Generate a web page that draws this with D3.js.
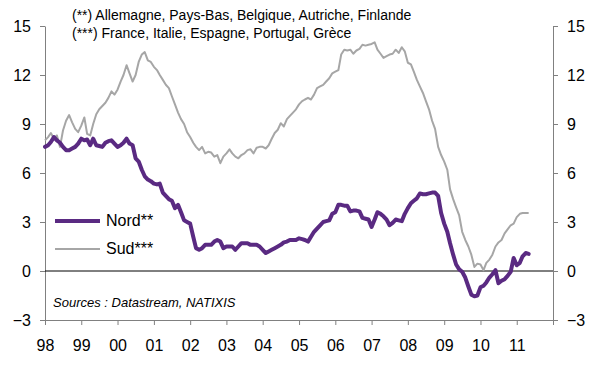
<!DOCTYPE html>
<html>
<head>
<meta charset="utf-8">
<script src="https://cdn.jsdelivr.net/npm/d3@7"></script>
<style>
  body { margin: 0; background: #fff; }
  text { font-family: Arial, "Liberation Sans", sans-serif; fill: #000; }
</style>
</head>
<body>
<div id="chart"></div>
<script>

// monthly values, jan 1998 -> may 2011
var nord = [7.6,7.7,7.9,8.2,8.0,7.85,7.6,7.4,7.4,7.5,7.6,7.8,
            8.1,8.0,8.05,7.7,8.1,7.7,7.65,7.6,7.85,7.95,8.0,7.8,
            7.6,7.7,7.85,8.1,7.8,7.7,6.9,6.7,6.2,5.8,5.6,5.5,
            5.35,5.3,5.35,4.8,4.6,4.4,4.3,3.85,4.05,3.6,3.1,3.0,
            2.9,2.1,1.4,1.3,1.4,1.6,1.6,1.6,1.8,1.9,1.8,1.4,
            1.5,1.5,1.5,1.3,1.5,1.7,1.7,1.7,1.6,1.6,1.6,1.5,
            1.3,1.1,1.2,1.3,1.4,1.5,1.6,1.75,1.8,1.9,1.9,1.9,
            2.0,1.95,1.9,1.8,2.1,2.4,2.6,2.8,3.0,3.05,3.1,3.5,
            3.6,4.05,4.05,4.0,4.0,3.65,3.7,3.7,3.65,3.25,3.2,3.15,
            2.7,3.15,3.6,3.5,3.35,3.15,2.8,2.95,3.15,3.1,3.05,3.5,
            3.85,4.15,4.3,4.45,4.75,4.7,4.7,4.75,4.8,4.8,4.6,3.55,
            2.9,2.4,1.7,1.0,0.4,0.1,-0.05,-0.4,-0.95,-1.45,-1.55,-1.5,
            -1.0,-0.9,-0.7,-0.4,-0.2,0.05,-0.75,-0.6,-0.5,-0.3,-0.05,0.8,
            0.35,0.5,0.9,1.1,1.05];

var sud = [8.0,8.2,8.45,8.1,8.3,7.6,8.6,9.2,9.55,9.1,8.7,8.5,
           8.9,9.4,8.4,8.3,9.0,9.6,9.9,10.1,10.3,10.6,11.0,10.8,
           11.1,11.6,12.0,12.6,12.1,11.6,12.0,12.8,13.25,13.4,12.9,12.8,
           12.5,12.3,12.0,11.7,11.4,11.2,10.7,10.2,9.7,9.3,9.0,8.5,
           8.2,7.85,7.6,7.4,7.6,7.2,7.3,7.25,7.0,7.1,6.6,7.0,
           7.2,7.45,7.2,7.0,6.9,7.1,7.2,7.4,7.45,7.2,7.55,7.6,
           7.6,7.5,7.7,8.1,8.45,8.65,9.05,8.85,9.3,9.5,9.7,9.9,
           10.2,10.4,10.5,10.6,10.5,10.8,11.2,11.3,11.4,11.6,11.8,12.1,
           12.2,12.3,13.25,13.55,13.5,13.55,13.3,13.5,13.6,13.85,13.8,13.85,
           13.9,14.0,13.55,13.3,13.05,13.15,13.25,13.3,13.55,13.35,13.7,13.45,
           12.75,12.65,12.2,11.7,11.3,10.9,10.4,9.9,9.2,8.7,7.6,7.1,
           6.7,6.2,5.0,4.4,3.9,3.4,2.4,1.9,1.5,1.0,0.25,0.45,
           0.4,0.05,0.5,0.7,1.0,1.5,1.75,1.9,2.3,2.55,2.8,2.9,
           3.3,3.5,3.55,3.55,3.55];

var yearLabels = ["98","99","00","01","02","03","04","05","06","07","08","09","10","11",""];
var yTicks = [-3,0,3,6,9,12,15];
var seriesNames = ["Nord**","Sud***"];
var notes = ["(**) Allemagne, Pays-Bas, Belgique, Autriche, Finlande",
             "(***) France, Italie, Espagne, Portugal, Grèce"];
var source = "Sources : Datastream, NATIXIS";

var w = 604,
    h = 369,
    padLeft = 45,
    padRight = 553,
    padTop = 26,
    padBottom = 320;

var purple = "#5a2a82",
    grey = "#a6a6a6",
    axisGrey = "#808080";

var svg = d3.select("#chart").append("svg")
            .attr("width", w)
            .attr("height", h);

var xScale = d3.scaleTime()
               .domain([new Date(1998,0,1), new Date(2012,0,1)])
               .range([padLeft, padRight]);
var yScale = d3.scaleLinear().domain([-3,15]).range([padBottom, padTop]);

function toPoints(arr){
  return arr.map(function(v,i){ return {date: new Date(1998,i,1), v: v}; });
}

// axes
var yearTicks = d3.range(1998,2013).map(function(y){ return new Date(y,0,1); });

var xAxis = d3.axisBottom(xScale)
              .tickValues(yearTicks)
              .tickSize(5)
              .tickSizeOuter(0)
              .tickFormat(function(d,i){ return yearLabels[i]; });

var gx = svg.append("g")
            .attr("transform","translate(0,"+padBottom+")")
            .call(xAxis);
gx.selectAll("text").attr("y",20).style("font-size","16px");

var gl = svg.append("g")
            .attr("transform","translate("+padLeft+",0)")
            .call(d3.axisLeft(yScale).tickValues(yTicks).tickSize(5).tickSizeOuter(0));
gl.selectAll("text").attr("x",-14).style("font-size","16px");

var gr = svg.append("g")
            .attr("transform","translate("+padRight+",0)")
            .call(d3.axisRight(yScale).tickValues(yTicks).tickSize(5).tickSizeOuter(0));
gr.selectAll("text").attr("x",14).style("font-size","16px");

svg.selectAll(".domain, .tick line").attr("stroke",axisGrey);
svg.selectAll(".tick text").attr("fill","#000").attr("font-family",null);

// zero line
svg.append("line")
   .attr("x1",padLeft).attr("x2",padRight)
   .attr("y1",yScale(0)).attr("y2",yScale(0))
   .attr("stroke","#000").attr("stroke-width",1);

var line = d3.line()
  .x(function(d){ return xScale(d.date); })
  .y(function(d){ return yScale(d.v); });

svg.append("path")
   .datum(toPoints(sud))
   .attr("fill","none")
   .attr("stroke",grey)
   .attr("stroke-width",2)
   .attr("stroke-linejoin","round")
   .attr("d",line);

svg.append("path")
   .datum(toPoints(nord))
   .attr("fill","none")
   .attr("stroke",purple)
   .attr("stroke-width",4)
   .attr("stroke-linejoin","round")
   .attr("stroke-linecap","round")
   .attr("d",line);

// notes at top
svg.selectAll(".note")
   .data(notes)
   .enter().append("text")
   .attr("class","note")
   .attr("x",72)
   .attr("y",function(d,i){ return 20 + i*18; })
   .style("font-size","14px")
   .text(function(d){ return d; });

// legend
var legendY = [221, 249];
var legendCol = [purple, grey];
var legendW = [4, 2];
seriesNames.forEach(function(name,i){
  svg.append("line")
     .attr("x1",55).attr("x2",100)
     .attr("y1",legendY[i]).attr("y2",legendY[i])
     .attr("stroke",legendCol[i])
     .attr("stroke-width",legendW[i]);
  svg.append("text")
     .attr("x",106)
     .attr("y",legendY[i]+5)
     .style("font-size","16px")
     .text(name);
});

svg.append("text")
   .attr("x",53)
   .attr("y",307)
   .style("font-size","13px")
   .style("font-style","italic")
   .text(source);

</script>
</body>
</html>
